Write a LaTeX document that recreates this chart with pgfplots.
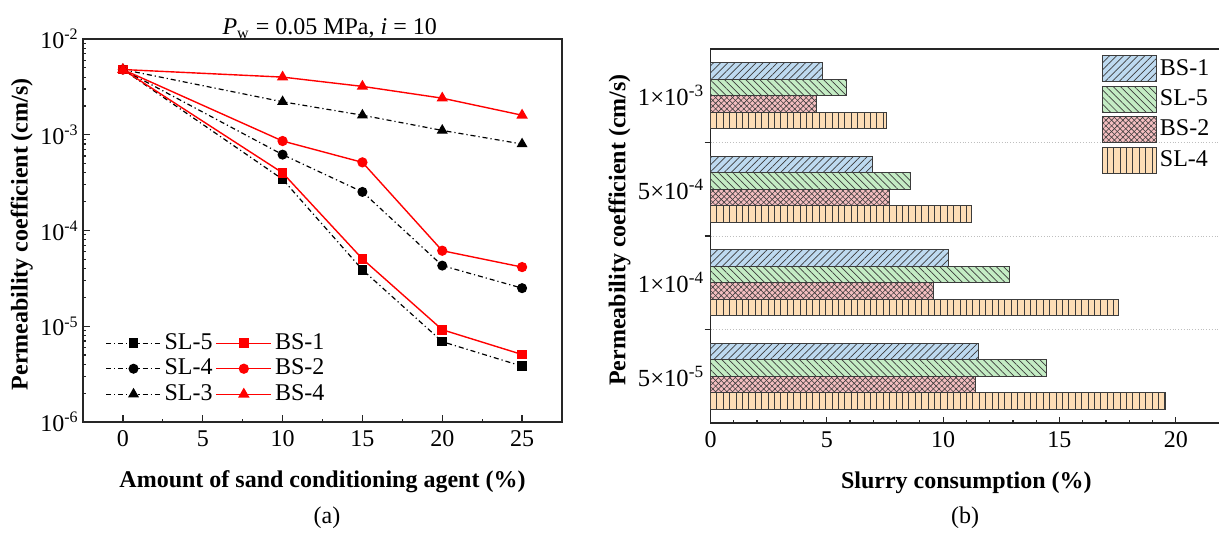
\documentclass[border=0pt]{standalone}
\usepackage{fontspec}
\setmainfont{Liberation Serif}
\usepackage{pgfplots}
\pgfplotsset{compat=1.18}
\usetikzlibrary{patterns.meta}

\definecolor{bsblue}{RGB}{190,218,240}
\definecolor{slgreen}{RGB}{196,236,196}
\definecolor{bspink}{RGB}{244,190,192}
\definecolor{slpeach}{RGB}{253,221,182}
\definecolor{hatch}{RGB}{60,60,60}

\tikzset{sldash/.style={dash pattern=on 2.5pt off 1.5pt on 0.6pt off 1.5pt}}
\pgfplotsset{
  barleg/.style={legend image code/.code={\draw[##1] (0pt,-6.5pt) rectangle (27pt,6.5pt);}},
}

\begin{document}
\fontsize{12}{14.4}\selectfont
\begin{tikzpicture}
\pgfplotsset{
  every axis/.append style={
    /pgf/number format/assume math mode=true,
    axis line style={line width=0.7pt, black!85},
    tick style={line width=0.6pt, black!85},
    tick align=inside,
    xtick pos=bottom, ytick pos=left,
  },
}
% (a) permeability vs. amount of agent
\begin{axis}[
  at={(41.5pt,57pt)}, anchor=south west,
  scale only axis, width=239.5pt, height=191.5pt,
  xmin=-2.5, xmax=27.5,
  ymode=log, ymin=1e-6, ymax=1e-2,
  xtick={0,5,...,25},
  minor xtick={2.5,7.5,12.5,17.5,22.5},
  ytick={1e-6,1e-5,1e-4,1e-3,1e-2},
  yticklabels={10\textsuperscript{-6},10\textsuperscript{-5},10\textsuperscript{-4},10\textsuperscript{-3},10\textsuperscript{-2}},
  minor ytick={2e-6,3e-6,4e-6,5e-6,6e-6,7e-6,8e-6,9e-6,
               2e-5,3e-5,4e-5,5e-5,6e-5,7e-5,8e-5,9e-5,
               2e-4,3e-4,4e-4,5e-4,6e-4,7e-4,8e-4,9e-4,
               2e-3,3e-3,4e-3,5e-3,6e-3,7e-3,8e-3,9e-3},
  major tick length=3.3pt, minor tick length=1.7pt,
  yticklabel style={xshift=2pt},
  xlabel={\textbf{Amount of sand conditioning agent (\%)}},
  xlabel style={at={(axis description cs:0.5,-0.157)}, anchor=center},
  ylabel={\textbf{Permeability coefficient (cm/s)}},
  ylabel style={at={(axis description cs:-0.128,0.49)}, anchor=center},
  title={\textit{P}\textsubscript{w} = 0.05 MPa, \textit{i} = 10},
  title style={at={(axis description cs:0.515,1)}, anchor=south, yshift=-10pt},
  legend columns=2,
  legend cell align=left,
  legend style={draw=none, fill=none, at={(rel axis cs:0.046,0.24)}, anchor=north west,
    inner sep=0pt, nodes={inner sep=1.5pt}},
  legend image code/.code={\draw[mark repeat=2,mark phase=2,#1] plot coordinates {(0pt,0pt) (13.75pt,0pt) (27.5pt,0pt)};},
]
\addplot[black, sldash, line width=0.6pt, mark=square*, mark size=2.1pt, mark options={solid}]
  coordinates {(0,4.8e-3) (10,3.43e-4) (15,3.89e-5) (20,6.9e-6) (25,3.83e-6)};
\addlegendentry{SL-5}
\addplot[red, line width=0.7pt, mark=square*, mark size=2.1pt]
  coordinates {(0,4.8e-3) (10,4.0e-4) (15,5.05e-5) (20,9.2e-6) (25,5.07e-6)};
\addlegendentry{BS-1}
\addplot[black, sldash, line width=0.6pt, mark=*, mark size=2.2pt, mark options={solid}]
  coordinates {(0,4.8e-3) (10,6.2e-4) (15,2.53e-4) (20,4.3e-5) (25,2.5e-5)};
\addlegendentry{SL-4}
\addplot[red, line width=0.7pt, mark=*, mark size=2.2pt]
  coordinates {(0,4.8e-3) (10,8.6e-4) (15,5.15e-4) (20,6.15e-5) (25,4.15e-5)};
\addlegendentry{BS-2}
\addplot[black, sldash, line width=0.6pt, mark=triangle*, mark size=2.6pt, mark options={solid}]
  coordinates {(0,4.8e-3) (10,2.21e-3) (15,1.6e-3) (20,1.11e-3) (25,8.0e-4)};
\addlegendentry{SL-3}
\addplot[red, line width=0.7pt, mark=triangle*, mark size=2.6pt]
  coordinates {(0,4.8e-3) (10,4.0e-3) (15,3.2e-3) (20,2.41e-3) (25,1.6e-3)};
\addlegendentry{BS-4}
\end{axis}

% (b) slurry consumption
\begin{axis}[
  at={(355.25pt,56.5pt)}, anchor=south west,
  scale only axis, width=255.9pt, height=187pt,
  xbar, bar width=8.3pt,
  xmin=0, xmax=22,
  ymin=-0.5, ymax=3.5,
  xtick={0,5,...,20},
  minor x tick num=4,
  major tick length=3pt, minor tick length=1.6pt,
  ytick={0.5,1.5,2.5}, yticklabels={,,},
  ymajorgrids, grid style={densely dotted, black!25, line width=0.5pt},
  extra y ticks={0,1,2,3},
  extra y tick labels={5×10\textsuperscript{-5},1×10\textsuperscript{-4},5×10\textsuperscript{-4},1×10\textsuperscript{-3}},
  extra y tick style={grid=none, major tick length=0pt,
    yticklabel style={font=\fontsize{12.3}{14}\selectfont, xshift=1pt}},
  xlabel={\textbf{Slurry consumption (\%)}},
  xlabel style={at={(axis description cs:0.5,-0.16)}, anchor=center},
  ylabel={\textbf{Permeability coefficient (cm/s)}},
  ylabel style={at={(axis description cs:-0.178,0.516)}, anchor=center},
  legend cell align=left,
  legend style={draw=none, fill=none, at={(rel axis cs:0.764,0.984)}, anchor=north west,
    inner sep=0pt, row sep=1.7pt, nodes={inner sep=1.5pt}},
]
\addplot[draw=hatch, line width=0.5pt, fill=bsblue, bar shift=12.45pt, barleg,
  postaction={pattern={Lines[angle=45,distance=2.5pt,line width=0.35pt]}, pattern color=hatch}]
  coordinates {(4.8,3) (6.95,2) (10.25,1) (11.5,0)};
\addlegendentry{BS-1}
\addplot[draw=hatch, line width=0.5pt, fill=slgreen, bar shift=4.15pt, barleg,
  postaction={pattern={Lines[angle=-45,distance=2.5pt,line width=0.35pt]}, pattern color=hatch}]
  coordinates {(5.85,3) (8.6,2) (12.85,1) (14.45,0)};
\addlegendentry{SL-5}
\addplot[draw=hatch, line width=0.5pt, fill=bspink, bar shift=-4.15pt, barleg,
  postaction={pattern={Lines[angle=45,distance=2pt,line width=0.3pt]}, pattern color=hatch},
  postaction={pattern={Lines[angle=-45,distance=2pt,line width=0.3pt]}, pattern color=hatch}]
  coordinates {(4.55,3) (7.7,2) (9.6,1) (11.4,0)};
\addlegendentry{BS-2}
\addplot[draw=hatch, line width=0.5pt, fill=slpeach, bar shift=-12.45pt, barleg,
  postaction={pattern={Lines[angle=90,distance=3.2pt,line width=0.35pt]}, pattern color=hatch}]
  coordinates {(7.55,3) (11.2,2) (17.55,1) (19.55,0)};
\addlegendentry{SL-4}
\end{axis}

\node at (163.5pt,9pt) {(a)};
\node at (482.5pt,9pt) {(b)};

\pgfresetboundingbox
\path[use as bounding box] (0,0) rectangle (609.5pt,268pt);
\end{tikzpicture}
\end{document}
